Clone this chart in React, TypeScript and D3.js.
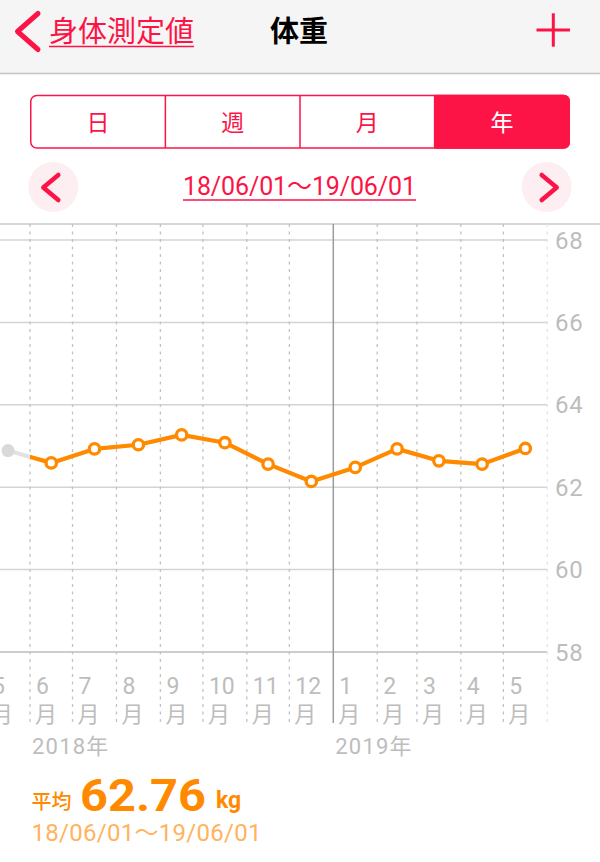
import React, { useEffect, useRef } from "react";
import * as d3 from "d3";

// ---- data ----
const pointMonths = [
  "2018-05", "2018-06", "2018-07", "2018-08", "2018-09", "2018-10", "2018-11",
  "2018-12", "2019-01", "2019-02", "2019-03", "2019-04", "2019-05",
];
const weights = [62.89, 62.59, 62.93, 63.03, 63.27, 63.08, 62.56, 62.14, 62.48, 62.93, 62.64, 62.56, 62.94];
const periodStart = "2018-06-01";
const periodEnd = "2019-06-01";
const gridStart = "2018-05-01";
const yTicks = [58, 60, 62, 64, 66, 68];
const yearLabels = ["2018年", "2019年"];
const yearLabelDates = ["2018-06-01", "2019-01-01"];
const segments = ["日", "週", "月", "年"];
const selectedSegment = "年";
const backLabel = "身体測定値";
const titleLabel = "体重";
const rangeLabel = "18/06/01〜19/06/01";
const averageLabel = "平均";
const averageValue = "62.76";
const unitLabel = "kg";

const RED = "#fd1447";
const ORANGE = "#ff8a00";
const LIGHT_ORANGE = "#ffb35e";
const GRID = "#d4d4d4";
const LABEL = "#bdbdbd";
const LATIN = "Roboto, 'Noto Sans CJK JP', sans-serif";
const CJK = "'Noto Sans CJK JP', sans-serif";

const parseDay = (s: string) => {
  const [yy, mm, dd] = s.split("-").map(Number);
  return new Date(yy, mm - 1, dd || 1);
};

export default function App() {
  const ref = useRef<SVGSVGElement | null>(null);

  useEffect(() => {
    const svg = d3.select(ref.current);
    svg.selectAll("*").remove();
    const W = 600, H = 862;

    svg.append("rect").attr("width", W).attr("height", H).attr("fill", "#fff");

    // ---- header ----
    svg.append("rect").attr("width", W).attr("height", 73).attr("fill", "#f5f5f5");
    svg.append("line").attr("x1", 0).attr("x2", W).attr("y1", 73.5).attr("y2", 73.5)
      .attr("stroke", "#c4c4c4").attr("stroke-width", 1.5);
    svg.append("polyline").attr("points", "38,13.5 17.5,31.5 38,49.5")
      .attr("fill", "none").attr("stroke", RED).attr("stroke-width", 5)
      .attr("stroke-linecap", "round").attr("stroke-linejoin", "round");
    const back = svg.append("text").attr("x", 49).attr("y", 42).attr("fill", RED)
      .attr("font-family", CJK).attr("font-size", 29).text(backLabel);
    const bw = (back.node() as SVGTextElement).getComputedTextLength();
    svg.append("line").attr("x1", 49).attr("x2", 49 + bw).attr("y1", 46.5).attr("y2", 46.5)
      .attr("stroke", RED).attr("stroke-width", 1.5);
    svg.append("text").attr("x", 299).attr("y", 42).attr("text-anchor", "middle")
      .attr("font-family", CJK).attr("font-weight", 700).attr("font-size", 29)
      .attr("fill", "#000").text(titleLabel);
    svg.append("line").attr("x1", 536.5).attr("x2", 570).attr("y1", 30).attr("y2", 30)
      .attr("stroke", RED).attr("stroke-width", 3);
    svg.append("line").attr("x1", 553.3).attr("x2", 553.3).attr("y1", 13.3).attr("y2", 46.7)
      .attr("stroke", RED).attr("stroke-width", 3);

    // ---- segmented control ----
    const segX0 = 30.75, segX1 = 569.25, segY0 = 95.5, segY1 = 148;
    const seg = d3.scaleBand().domain(segments).range([segX0, segX1]);
    svg.append("rect").attr("x", segX0).attr("y", segY0).attr("width", segX1 - segX0)
      .attr("height", segY1 - segY0).attr("rx", 6).attr("fill", "#fff")
      .attr("stroke", RED).attr("stroke-width", 1.5);
    const sx = seg(selectedSegment)!;
    const r = 6;
    svg.append("path")
      .attr("d", `M${sx},${segY0 - 0.75} H${segX1 + 0.75 - r} A${r},${r} 0 0 1 ${segX1 + 0.75},${segY0 - 0.75 + r} V${segY1 + 0.75 - r} A${r},${r} 0 0 1 ${segX1 + 0.75 - r},${segY1 + 0.75} H${sx} Z`)
      .attr("fill", RED);
    segments.slice(1).forEach((s) => {
      const xx = seg(s)!;
      svg.append("line").attr("x1", xx).attr("x2", xx).attr("y1", segY0).attr("y2", segY1)
        .attr("stroke", RED).attr("stroke-width", 1.5);
    });
    segments.forEach((s) => {
      svg.append("text").attr("x", seg(s)! + seg.bandwidth() / 2).attr("y", 130.5)
        .attr("text-anchor", "middle").attr("font-family", CJK).attr("font-size", 23)
        .attr("fill", s === selectedSegment ? "#fff" : RED).text(s);
    });

    // ---- range nav ----
    [53.3, 546.7].forEach((cx, i) => {
      svg.append("circle").attr("cx", cx).attr("cy", 187).attr("r", 25).attr("fill", "#fdeef1");
      const d = i === 0 ? -1 : 1;
      svg.append("polyline")
        .attr("points", `${cx - 5 * d},175 ${cx + 10 * d},187.5 ${cx - 5 * d},200`)
        .attr("fill", "none").attr("stroke", RED).attr("stroke-width", 4.5)
        .attr("stroke-linecap", "round").attr("stroke-linejoin", "round");
    });
    const rlw = 233;
    svg.append("text").attr("x", 299.5).attr("y", 195).attr("text-anchor", "middle")
      .attr("font-family", LATIN).attr("font-size", 25).attr("fill", RED)
      .attr("textLength", rlw).attr("lengthAdjust", "spacing").text(rangeLabel);
    svg.append("line").attr("x1", 299.5 - rlw / 2).attr("x2", 299.5 + rlw / 2)
      .attr("y1", 200).attr("y2", 200).attr("stroke", RED).attr("stroke-width", 1.5);

    // ---- chart ----
    const x = d3.scaleTime().domain([parseDay(periodStart), parseDay(periodEnd)]).range([30, 547.3]);
    const y = d3.scaleLinear().domain([58, 68]).range([652, 240]);
    const top = 224, bottom = 723;

    svg.append("line").attr("x1", 0).attr("x2", W).attr("y1", top).attr("y2", top)
      .attr("stroke", "#c8c8c8").attr("stroke-width", 1.5);

    yTicks.forEach((t) => {
      svg.append("line").attr("x1", 0).attr("x2", x(parseDay(periodEnd)))
        .attr("y1", y(t)).attr("y2", y(t))
        .attr("stroke", t === 58 ? "#bcbcbc" : GRID).attr("stroke-width", 1.5);
    });

    const monthStarts = d3.timeMonth.range(parseDay(gridStart), d3.timeDay.offset(parseDay(periodEnd), 1));
    const jan = d3.timeYear.floor(parseDay(periodEnd));
    monthStarts.forEach((m) => {
      const xx = x(m);
      const isJan = +m === +jan;
      const isEnd = +m === +parseDay(periodEnd);
      const ln = svg.append("line").attr("x1", xx).attr("x2", xx).attr("y1", top).attr("y2", bottom)
        .attr("stroke", isJan ? "#9c9c9c" : isEnd ? "#e4e4e4" : "#c2c2c2")
        .attr("stroke-width", isJan ? 1.5 : 1.3);
      if (!isJan) ln.attr("stroke-dasharray", "3,4.5");
      if (!isEnd) {
        const t = svg.append("text").attr("fill", LABEL);
        t.append("tspan").attr("x", xx + 6).attr("y", 693.5).attr("font-family", LATIN)
          .attr("font-size", 23).text(String(m.getMonth() + 1));
        t.append("tspan").attr("x", xx + 5).attr("y", 721.5).attr("font-family", CJK)
          .attr("font-size", 22).text("月");
      }
    });

    yearLabels.forEach((lab, i) => {
      svg.append("text").attr("x", x(parseDay(yearLabelDates[i])) + 2).attr("y", 754)
        .attr("font-family", LATIN).attr("font-size", 22).attr("letter-spacing", 1.2)
        .attr("fill", LABEL).text(lab);
    });

    yTicks.forEach((t) => {
      svg.append("text").attr("x", 555).attr("y", y(t) + 8.6).attr("font-family", LATIN)
        .attr("font-size", 24).attr("letter-spacing", 0.8).attr("fill", LABEL).text(String(t));
    });

    // ---- series ----
    const pts = pointMonths.map((s, i) => {
      const m0 = parseDay(s);
      const m1 = d3.timeMonth.offset(m0, 1);
      return { x: (x(m0) + x(m1)) / 2, y: y(weights[i]) };
    });
    const defs = svg.append("defs");
    const x0 = x(parseDay(periodStart));
    defs.append("clipPath").attr("id", "cl-before").append("rect")
      .attr("x", -10).attr("y", 0).attr("width", x0 + 10).attr("height", H);
    defs.append("clipPath").attr("id", "cl-after").append("rect")
      .attr("x", x0).attr("y", 0).attr("width", W).attr("height", H);
    const lineGen = d3.line<{ x: number; y: number }>().x((d) => d.x).y((d) => d.y);
    svg.append("path").attr("d", lineGen(pts.slice(0, 2))!).attr("fill", "none")
      .attr("stroke", "#e2e2e2").attr("stroke-width", 4).attr("clip-path", "url(#cl-before)");
    svg.append("path").attr("d", lineGen(pts)!).attr("fill", "none")
      .attr("stroke", ORANGE).attr("stroke-width", 4.2).attr("stroke-linejoin", "round")
      .attr("clip-path", "url(#cl-after)");
    svg.append("circle").attr("cx", pts[0].x).attr("cy", pts[0].y).attr("r", 6.5).attr("fill", "#d9d9d9");
    pts.slice(1).forEach((p) => {
      svg.append("circle").attr("cx", p.x).attr("cy", p.y).attr("r", 5.2)
        .attr("fill", "#fff").attr("stroke", ORANGE).attr("stroke-width", 3.3);
    });

    // ---- average ----
    svg.append("text").attr("x", 31.5).attr("y", 809).attr("font-family", CJK)
      .attr("font-weight", 500).attr("font-size", 20).attr("fill", ORANGE).text(averageLabel);
    svg.append("text").attr("x", 80).attr("y", 811).attr("font-family", LATIN)
      .attr("font-weight", 700).attr("font-size", 45).attr("fill", ORANGE)
      .attr("textLength", 126).attr("lengthAdjust", "spacingAndGlyphs").text(averageValue);
    svg.append("text").attr("x", 216).attr("y", 808).attr("font-family", LATIN)
      .attr("font-weight", 700).attr("font-size", 23).attr("fill", ORANGE).text(unitLabel);
    svg.append("text").attr("x", 31.5).attr("y", 841).attr("font-family", LATIN)
      .attr("font-size", 24).attr("fill", LIGHT_ORANGE)
      .attr("textLength", 230).attr("lengthAdjust", "spacing").text(rangeLabel);
  }, []);

  return (
    <svg
      ref={ref}
      width={600}
      height={862}
      style={{ position: "absolute", left: 0, top: 0, display: "block" }}
    />
  );
}
